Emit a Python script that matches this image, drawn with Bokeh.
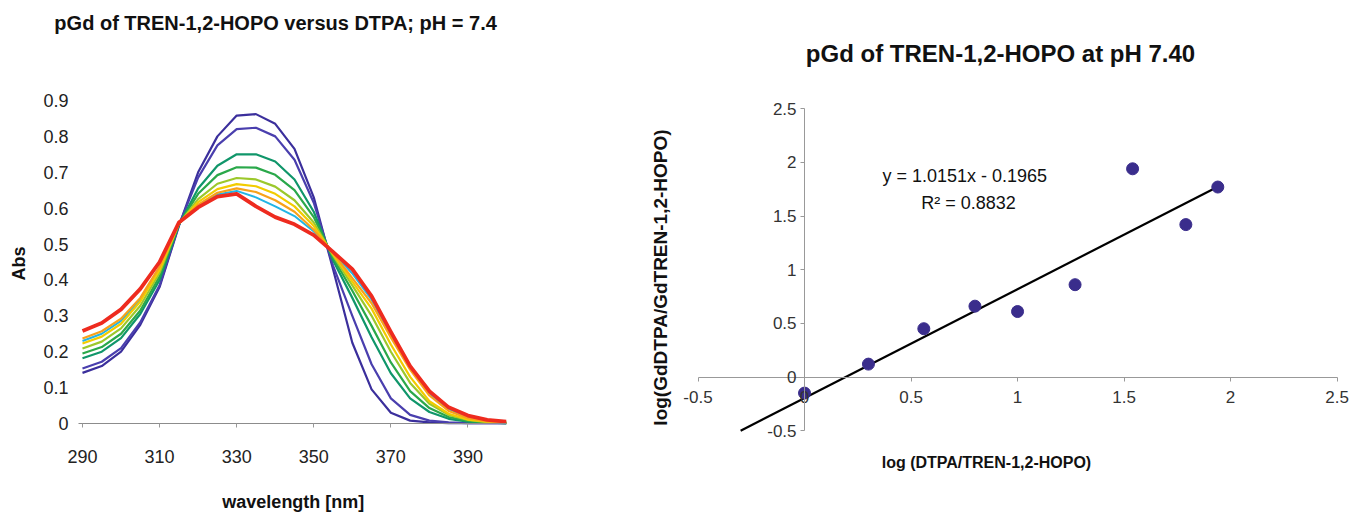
from bokeh.plotting import figure
from bokeh.layouts import row
from bokeh.models import FixedTicker, Label
from bokeh.embed import file_html
from bokeh.resources import INLINE

# ---------------- data: left chart (UV-vis titration) ----------------
wavelength = [290, 295, 300, 305, 310, 315, 320, 325, 330, 335, 340, 345,
              350, 355, 360, 365, 370, 375, 380, 385, 390, 395, 400]
abs_blue1 = [0.141, 0.160, 0.200, 0.275, 0.380, 0.550, 0.700, 0.800, 0.858, 0.862, 0.835, 0.765,
             0.630, 0.430, 0.225, 0.095, 0.030, 0.008, 0.003, 0.001, 0.001, 0.001, 0.001]
abs_blue2 = [0.153, 0.172, 0.210, 0.282, 0.385, 0.552, 0.685, 0.775, 0.820, 0.824, 0.800, 0.735,
             0.615, 0.440, 0.300, 0.165, 0.070, 0.024, 0.008, 0.003, 0.001, 0.001, 0.001]
abs_cyan = [0.230, 0.250, 0.286, 0.345, 0.432, 0.557, 0.606, 0.638, 0.648, 0.630, 0.605, 0.578,
            0.535, 0.477, 0.418, 0.345, 0.248, 0.155, 0.084, 0.040, 0.018, 0.008, 0.004]
abs_green1 = [0.182, 0.200, 0.238, 0.305, 0.400, 0.553, 0.655, 0.718, 0.750, 0.750, 0.730, 0.680,
              0.590, 0.455, 0.350, 0.240, 0.140, 0.070, 0.032, 0.013, 0.005, 0.002, 0.001]
abs_green2 = [0.195, 0.213, 0.250, 0.315, 0.410, 0.555, 0.640, 0.692, 0.714, 0.713, 0.693, 0.650,
              0.575, 0.462, 0.370, 0.272, 0.170, 0.090, 0.043, 0.018, 0.007, 0.003, 0.001]
abs_yellowgreen = [0.209, 0.228, 0.265, 0.328, 0.420, 0.556, 0.625, 0.668, 0.684, 0.680, 0.660, 0.622,
                   0.560, 0.468, 0.385, 0.300, 0.200, 0.113, 0.055, 0.024, 0.010, 0.004, 0.002]
abs_yellow = [0.223, 0.242, 0.278, 0.340, 0.428, 0.557, 0.617, 0.653, 0.667, 0.661, 0.640, 0.605,
              0.550, 0.472, 0.395, 0.320, 0.220, 0.130, 0.062, 0.027, 0.011, 0.005, 0.002]
abs_orange = [0.237, 0.257, 0.292, 0.350, 0.437, 0.558, 0.610, 0.643, 0.655, 0.645, 0.622, 0.590,
              0.540, 0.475, 0.405, 0.335, 0.240, 0.150, 0.078, 0.035, 0.015, 0.006, 0.003]
abs_red = [0.258, 0.280, 0.318, 0.375, 0.450, 0.560, 0.602, 0.632, 0.640, 0.605, 0.575, 0.555,
           0.525, 0.478, 0.430, 0.355, 0.255, 0.160, 0.090, 0.045, 0.022, 0.010, 0.005]

left_x_ticks = [290, 310, 330, 350, 370, 390]
left_y_ticks = [0, 0.1, 0.2, 0.3, 0.4, 0.5, 0.6, 0.7, 0.8, 0.9]
left_y_tick_labels = ["0", "0.1", "0.2", "0.3", "0.4", "0.5", "0.6", "0.7", "0.8", "0.9"]

# ---------------- data: right chart (pGd plot) ----------------
log_ratio_ligand = [0.00, 0.30, 0.56, 0.80, 1.00, 1.27, 1.54, 1.79, 1.94]
log_ratio_complex = [-0.15, 0.12, 0.45, 0.66, 0.61, 0.86, 1.94, 1.42, 1.77]
trend_slope = 1.0151
trend_intercept = -0.1965
trend_x_extent = [-0.30, 1.94]
right_ticks = [-0.5, 0, 0.5, 1, 1.5, 2, 2.5]
right_tick_labels = ["-0.5", "0", "0.5", "1", "1.5", "2", "2.5"]

FONT = "Liberation Sans"

# ---------------- left figure ----------------
p1 = figure(width=530, height=514, output_backend="svg", toolbar_location=None,
            x_range=(268.73, 400), y_range=(-0.2536, 1.1786),
            min_border_left=0, min_border_right=24, min_border_top=0, min_border_bottom=0)
p1.outline_line_color = None
p1.xgrid.visible = False
p1.ygrid.visible = False
p1.background_fill_color = "white"
p1.border_fill_color = "white"

curves = [
    (abs_cyan, "#22b5e6", 2),
    (abs_blue1, "#3b2f9c", 2.2),
    (abs_blue2, "#4a3fae", 2.2),
    (abs_green1, "#10966a", 2.2),
    (abs_green2, "#2aa84a", 2.2),
    (abs_yellowgreen, "#9cc82c", 2.2),
    (abs_yellow, "#f2cc00", 2.2),
    (abs_orange, "#f7a21b", 2.2),
    (abs_red, "#ee2b1f", 3.8),
]
for vals, col, lw in curves:
    p1.line(wavelength, vals, line_color=col, line_width=lw, line_join="round")

xa = p1.xaxis[0]
xa.fixed_location = 0
xa.bounds = (289, 400)
xa.ticker = FixedTicker(ticks=left_x_ticks)
xa.minor_tick_line_color = None
xa.major_tick_in = 0
xa.major_tick_out = 4
xa.major_tick_line_color = "#999999"
xa.axis_line_color = "#8c8c8c"
xa.axis_line_width = 1.2
xa.major_label_standoff = 23
xa.major_label_text_font = FONT
xa.major_label_text_font_size = "18px"
xa.major_label_text_color = "#222222"

ya = p1.yaxis[0]
ya.fixed_location = 290
ya.ticker = FixedTicker(ticks=left_y_ticks)
ya.major_label_overrides = dict(zip(left_y_ticks, left_y_tick_labels))
ya.minor_tick_line_color = None
ya.major_tick_line_color = None
ya.axis_line_color = None
ya.major_tick_out = 0
ya.major_label_standoff = 14
ya.major_label_text_font = FONT
ya.major_label_text_font_size = "18px"
ya.major_label_text_color = "#222222"

p1.add_layout(Label(x=273.65, y=0.446, text="Abs", angle=1.5708,
                    text_font=FONT, text_font_size="18px", text_font_style="bold",
                    text_align="center", text_baseline="middle", text_color="#111111"))
p1.add_layout(Label(x=344.7, y=-0.220, text="wavelength [nm]",
                    text_font=FONT, text_font_size="18px", text_font_style="bold",
                    text_align="center", text_baseline="middle", text_color="#111111"))
p1.add_layout(Label(x=340.1, y=1.117, text="pGd of TREN-1,2-HOPO versus DTPA; pH = 7.4",
                    text_font=FONT, text_font_size="20px", text_font_style="bold",
                    text_align="center", text_baseline="middle", text_color="#111111"))

# ---------------- right figure ----------------
p2 = figure(width=826, height=514, output_backend="svg", toolbar_location=None,
            x_range=(-0.770, 2.577), y_range=(-1.2811, 3.508),
            min_border_left=110, min_border_right=3, min_border_top=0, min_border_bottom=0)
p2.outline_line_color = None
p2.xgrid.visible = False
p2.ygrid.visible = False
p2.background_fill_color = "white"
p2.border_fill_color = "white"

for ax in (p2.xaxis[0], p2.yaxis[0]):
    ax.fixed_location = 0
    ax.bounds = (-0.5, 2.5)
    ax.ticker = FixedTicker(ticks=right_ticks)
    ax.major_label_overrides = dict(zip(right_ticks, right_tick_labels))
    ax.minor_tick_line_color = None
    ax.major_tick_in = 0
    ax.major_tick_out = 4
    ax.major_tick_line_color = "#999999"
    ax.axis_line_color = "#999999"
    ax.major_label_text_font = FONT
    ax.major_label_text_font_size = "17px"
    ax.major_label_text_color = "#333333"
p2.xaxis.major_label_standoff = 10
p2.yaxis.major_label_standoff = 4

trend_y = [trend_slope * xv + trend_intercept for xv in trend_x_extent]
p2.line(trend_x_extent, trend_y, line_color="#000000", line_width=2.2)
p2.scatter(log_ratio_ligand, log_ratio_complex, size=12, fill_color="#3a2d8c",
           line_color="#3a2d8c")

p2.add_layout(Label(x=0.92, y=3.014, text="pGd of TREN-1,2-HOPO at pH 7.40",
                    text_font=FONT, text_font_size="24px", text_font_style="bold",
                    text_align="center", text_baseline="middle", text_color="#111111"))
p2.add_layout(Label(x=-0.676, y=0.927, text="log(GdDTPA/GdTREN-1,2-HOPO)", angle=1.5708,
                    text_font=FONT, text_font_size="19px", text_font_style="bold",
                    text_align="center", text_baseline="middle", text_color="#111111"))
p2.add_layout(Label(x=0.854, y=-0.797, text="log (DTPA/TREN-1,2-HOPO)",
                    text_font=FONT, text_font_size="16px", text_font_style="bold",
                    text_align="center", text_baseline="middle", text_color="#111111"))
p2.add_layout(Label(x=0.366, y=1.877, text="y = 1.0151x - 0.1965",
                    text_font=FONT, text_font_size="18px",
                    text_align="left", text_baseline="middle", text_color="#111111"))
p2.add_layout(Label(x=0.548, y=1.617, text="R² = 0.8832",
                    text_font=FONT, text_font_size="18px",
                    text_align="left", text_baseline="middle", text_color="#111111"))

layout = row(p1, p2)
open("out.html", "w").write(file_html(layout, INLINE))
